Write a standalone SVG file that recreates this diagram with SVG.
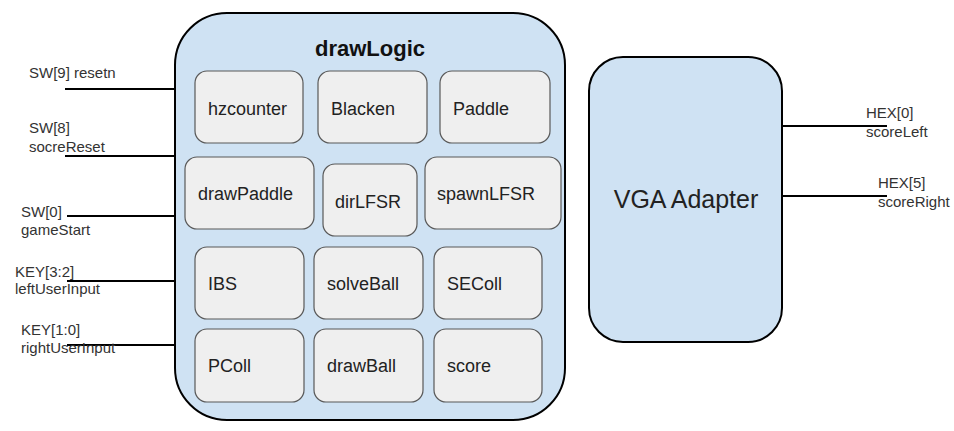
<svg xmlns="http://www.w3.org/2000/svg" width="954" height="431" viewBox="0 0 954 431">
<style>
.big{fill:#cfe2f3;stroke:#000;stroke-width:2}
.box{fill:#efefef;stroke:#595959;stroke-width:1.2}
.t{font-family:"Liberation Sans",Arial,sans-serif;font-size:18px;fill:#222}
.lbl{font-family:"Liberation Sans",Arial,sans-serif;font-size:15px;fill:#333}
.wire{stroke:#000;stroke-width:2;fill:none}
</style>
<rect width="954" height="431" fill="#fff"/>
<g id="connectors">
<line class="wire" x1="65" y1="89" x2="175" y2="89"/>
<line class="wire" x1="65" y1="156" x2="175" y2="156"/>
<line class="wire" x1="67" y1="216" x2="175" y2="216"/>
<line class="wire" x1="67" y1="281" x2="175" y2="281"/>
<line class="wire" x1="67" y1="345" x2="175" y2="345"/>
<line class="wire" x1="782" y1="126" x2="887" y2="126"/>
<line class="wire" x1="782" y1="196" x2="887" y2="196"/>
</g>
<g id="labels">
<text class="lbl" x="29" y="78">SW[9] resetn</text>
<text class="lbl" x="29" y="133">SW[8]</text>
<text class="lbl" x="29" y="152">socreReset</text>
<text class="lbl" x="21" y="217">SW[0]</text>
<text class="lbl" x="21" y="235">gameStart</text>
<text class="lbl" x="15" y="277">KEY[3:2]</text>
<text class="lbl" x="15" y="294">leftUserInput</text>
<text class="lbl" x="21" y="335">KEY[1:0]</text>
<text class="lbl" x="21" y="353">rightUserInput</text>
<text class="lbl" x="866" y="118">HEX[0]</text>
<text class="lbl" x="866" y="137">scoreLeft</text>
<text class="lbl" x="878" y="188">HEX[5]</text>
<text class="lbl" x="878" y="207">scoreRight</text>
</g>
<g id="drawLogic">
<rect class="big" x="175" y="13" width="390" height="407" rx="52" ry="52"/>
<text x="370" y="56" text-anchor="middle" font-family="Liberation Sans,Arial,sans-serif" font-size="22" font-weight="bold" fill="#111">drawLogic</text>
</g>
<g id="hzcounter"><rect class="box" x="195" y="71" width="108" height="72" rx="12"/><text class="t" x="208" y="115">hzcounter</text></g>
<g id="Blacken"><rect class="box" x="318" y="71" width="109" height="72" rx="12"/><text class="t" x="331" y="115">Blacken</text></g>
<g id="Paddle"><rect class="box" x="440" y="71" width="110" height="72" rx="12"/><text class="t" x="453" y="115">Paddle</text></g>
<g id="drawPaddle"><rect class="box" x="185" y="157" width="129" height="72" rx="12"/><text class="t" x="198" y="200">drawPaddle</text></g>
<g id="dirLFSR"><rect class="box" x="323" y="164" width="94" height="72" rx="12"/><text class="t" x="335" y="208">dirLFSR</text></g>
<g id="spawnLFSR"><rect class="box" x="425" y="157" width="136" height="72" rx="12"/><text class="t" x="437" y="200">spawnLFSR</text></g>
<g id="IBS"><rect class="box" x="195" y="247" width="109" height="72" rx="12"/><text class="t" x="208" y="290">IBS</text></g>
<g id="solveBall"><rect class="box" x="314" y="247" width="109" height="72" rx="12"/><text class="t" x="327" y="290">solveBall</text></g>
<g id="SEColl"><rect class="box" x="434" y="247" width="108" height="72" rx="12"/><text class="t" x="447" y="290">SEColl</text></g>
<g id="PColl"><rect class="box" x="195" y="329" width="109" height="73" rx="12"/><text class="t" x="208" y="372">PColl</text></g>
<g id="drawBall"><rect class="box" x="314" y="329" width="109" height="73" rx="12"/><text class="t" x="327" y="372">drawBall</text></g>
<g id="score"><rect class="box" x="434" y="329" width="108" height="73" rx="12"/><text class="t" x="447" y="372">score</text></g>
<g id="VGAAdapter">
<rect class="big" x="589" y="57" width="193" height="285" rx="34" ry="34"/>
<text x="686" y="208" text-anchor="middle" font-family="Liberation Sans,Arial,sans-serif" font-size="25" fill="#222">VGA Adapter</text>
</g>
</svg>
